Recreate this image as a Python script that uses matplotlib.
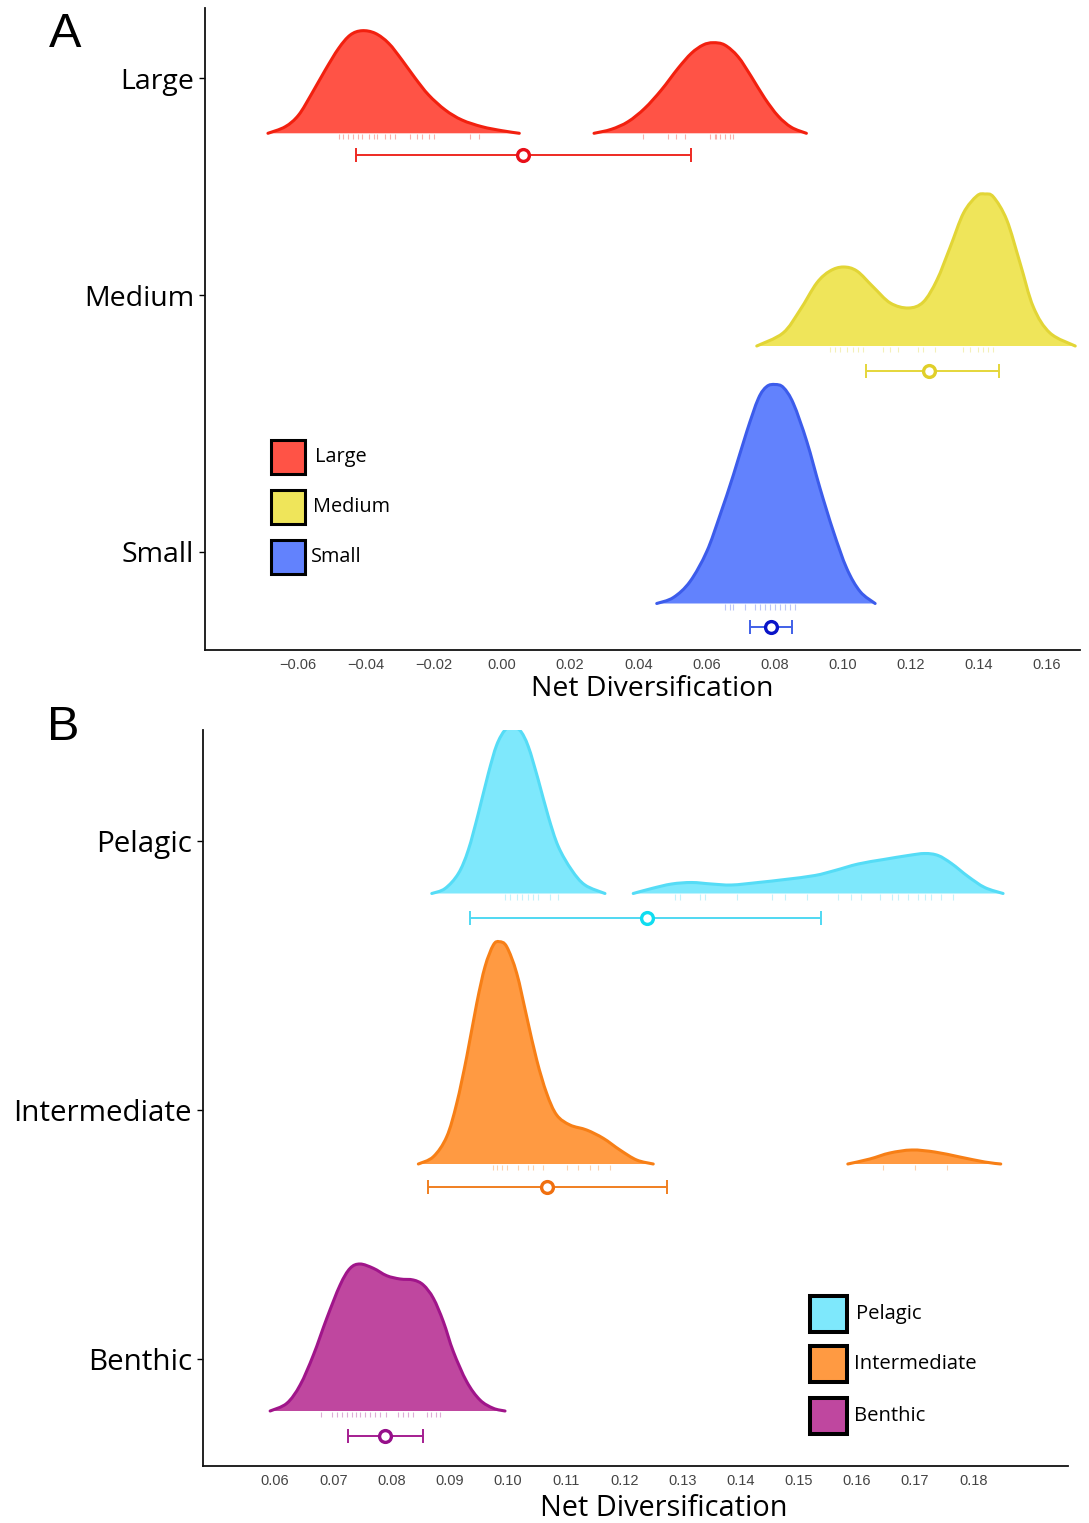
import matplotlib
matplotlib.use("Agg")
import matplotlib.pyplot as plt
from matplotlib.patches import Rectangle, PathPatch
from matplotlib.path import Path

# ================= DATA =================
# ---- Panel A: body size ----
size_categories = ["Large", "Medium", "Small"]

large_x1 = [-0.06872, -0.06364, -0.05971, -0.05580, -0.05189, -0.04796, -0.04455, -0.04112,
            -0.03721, -0.03327, -0.02937, -0.02546, -0.02153, -0.01665, -0.01175, -0.00587,
            0.00000, 0.00508]
large_h1 = [0, 6.6, 18.3, 40, 63.3, 85, 98.3, 102.6, 100, 90, 73.3, 55, 38.3, 23.3, 13.3, 6.6, 2.6, 0]
large_x2 = [0.02702, 0.03210, 0.03700, 0.04191, 0.04678, 0.05169, 0.05559, 0.05903, 0.06197,
            0.06540, 0.06931, 0.07322, 0.07715, 0.08106, 0.08496, 0.08937]
large_h2 = [0, 4, 11.6, 25, 43.3, 65, 80, 88.3, 90.6, 88.3, 76.6, 56.6, 35, 17.3, 6, 0]

medium_x = [0.0748, 0.0825, 0.0875, 0.0924, 0.0963, 0.1002, 0.1042, 0.1090, 0.1140, 0.1193,
            0.1237, 0.1277, 0.1316, 0.1355, 0.1394, 0.1418, 0.1443, 0.1482, 0.1521, 0.1560,
            0.1609, 0.1683]
medium_h = [0, 13, 36, 63, 75, 79, 75, 59, 43, 38, 44, 66, 99, 133, 150, 152, 149, 126, 83, 39, 13, 0]

small_x = [0.04543, 0.05031, 0.05521, 0.06012, 0.06402, 0.06793, 0.07187, 0.07527, 0.07774,
           0.08018, 0.08261, 0.08555, 0.08949, 0.09339, 0.09730, 0.10123, 0.10514, 0.10955]
small_h = [0, 6, 22, 52, 88.5, 128.5, 172, 205, 217, 219, 216, 200, 162, 115, 72, 35, 12, 0]

large_rug = [-0.0480, -0.0467, -0.0452, -0.0438, -0.0423, -0.0411, -0.0391, -0.0377, -0.0367,
             -0.0344, -0.0329, -0.0314, -0.0270, -0.0250, -0.0235, -0.0215, -0.0201, -0.0094,
             -0.0068, 0.0414, 0.0488, 0.0512, 0.0537, 0.0610, 0.0625, 0.0629, 0.0639, 0.0654,
             0.0669, 0.0678]
medium_rug = [0.0963, 0.0978, 0.0993, 0.1012, 0.1031, 0.1046, 0.1060, 0.1119, 0.1140, 0.1163,
              0.1222, 0.1236, 0.1272, 0.1354, 0.1374, 0.1398, 0.1413, 0.1427, 0.1442]
small_rug = [0.0655, 0.0670, 0.0678, 0.0714, 0.0743, 0.0758, 0.0772, 0.0787, 0.0802, 0.0816,
             0.0831, 0.0846, 0.0860]

size_lo = [-0.0429, 0.1069, 0.0728]
size_mean = [0.0062, 0.1253, 0.0789]
size_hi = [0.0554, 0.1458, 0.0850]

size_ticks = [-0.06, -0.04, -0.02, 0.00, 0.02, 0.04, 0.06, 0.08, 0.10, 0.12, 0.14, 0.16]

# ---- Panel B: habitat ----
habitat_categories = ["Pelagic", "Intermediate", "Benthic"]

pelagic_x1 = [0.08693, 0.08921, 0.09150, 0.09321, 0.09493, 0.09665, 0.09809, 0.09952, 0.10067,
              0.10210, 0.10352, 0.10524, 0.10696, 0.10868, 0.11098, 0.11326, 0.11670]
pelagic_h1 = [0, 5, 20, 43.5, 80, 120, 148.5, 163.5, 166, 163, 147, 113.5, 77, 47, 23.5, 8.5, 0]
pelagic_x2 = [0.12156, 0.12473, 0.12816, 0.13160, 0.13503, 0.13847, 0.14304, 0.14763, 0.15278,
              0.15622, 0.16022, 0.16460, 0.16881, 0.17168, 0.17397, 0.17627, 0.17912, 0.18199,
              0.18514]
pelagic_h2 = [0, 5, 9.5, 11, 9.5, 8.5, 11, 14, 18, 23, 29.5, 34, 38, 40, 38, 30, 17, 6, 0]

inter_x1 = [0.08462, 0.08720, 0.08950, 0.09122, 0.09294, 0.09466, 0.09608, 0.09751, 0.09854,
            0.09981, 0.10153, 0.10325, 0.10497, 0.10668, 0.10840, 0.11069, 0.11356, 0.11641,
            0.11928, 0.12215, 0.12500]
inter_h1 = [0, 7.3, 27.3, 60.7, 107.3, 160.7, 197.3, 219, 222.3, 217.3, 190.7, 147.3, 104, 70.7,
            49, 39, 34, 25.7, 14, 4, 0]
inter_x2 = [0.15845, 0.16223, 0.16567, 0.16945, 0.17340, 0.17770, 0.18199, 0.18474]
inter_h2 = [0, 5, 11, 14, 12, 7, 2, 0]

benthic_x = [0.05914, 0.06201, 0.06430, 0.06658, 0.06888, 0.07117, 0.07289, 0.07460, 0.07689,
             0.07919, 0.08148, 0.08376, 0.08548, 0.08720, 0.08892, 0.09064, 0.09294, 0.09522,
             0.09751, 0.09952]
benthic_h = [0, 7.7, 26, 56, 92.7, 126, 142.7, 147, 142.7, 135.3, 132, 131, 126, 112.7, 89.3,
             59.3, 29.3, 11, 2.7, 0]

pelagic_rug = [0.09952, 0.10038, 0.10158, 0.10244, 0.10347, 0.10433, 0.10519, 0.10725, 0.10863,
               0.12873, 0.12959, 0.13302, 0.13388, 0.13933, 0.14534, 0.14763, 0.15135, 0.15679,
               0.15908, 0.16080, 0.16395, 0.16596, 0.16709, 0.16881, 0.17053, 0.17168, 0.17283,
               0.17455, 0.17654]
inter_rug = [0.09751, 0.09814, 0.09895, 0.09981, 0.10180, 0.10352, 0.10438, 0.10610, 0.11012,
             0.11211, 0.11412, 0.11555, 0.11756, 0.1645, 0.1700, 0.1755]
benthic_rug = [0.06790, 0.06979, 0.07065, 0.07151, 0.07237, 0.07323, 0.07392, 0.07460, 0.07546,
               0.07632, 0.07718, 0.07804, 0.07907, 0.08113, 0.08199, 0.08285, 0.08371, 0.08612,
               0.08680, 0.08766, 0.08835]

habitat_lo = [0.0935, 0.0862, 0.0725]
habitat_mean = [0.1239, 0.1067, 0.0789]
habitat_hi = [0.1538, 0.1273, 0.0855]

habitat_ticks = [0.06, 0.07, 0.08, 0.09, 0.10, 0.11, 0.12, 0.13, 0.14, 0.15, 0.16, 0.17, 0.18]

# ================= STYLE / LAYOUT =================
W, H = 1089, 1523
TXT = "Open Sans"
TICKF = "Liberation Sans"

styles = {
    "Large": dict(fill="#FF5346", edge="#F2200F", bar="#EE2A22", mk="#E8101A"),
    "Medium": dict(fill="#EFE55A", edge="#E2D536", bar="#E5D63A", mk="#E0CF2A"),
    "Small": dict(fill="#6282FD", edge="#3C5CEB", bar="#4060E8", mk="#0A14C8"),
    "Pelagic": dict(fill="#7EE8FC", edge="#55DCF6", bar="#50D8F2", mk="#10DDF0"),
    "Intermediate": dict(fill="#FF9A42", edge="#F77F16", bar="#F07F20", mk="#F07010"),
    "Benthic": dict(fill="#BF479F", edge="#A0158A", bar="#A51E90", mk="#96108A"),
}

fig = plt.figure(figsize=(W / 100, H / 100), dpi=100)


def make_axes(left, bottom_px, right, top_px, ytop, ylab_size):
    ax = fig.add_axes([left / W, 1 - bottom_px / H, (right - left) / W, (bottom_px - top_px) / H])
    ax.set_ylim(0, ytop)
    for s in ("top", "right"):
        ax.spines[s].set_visible(False)
    for s in ("left", "bottom"):
        ax.spines[s].set_linewidth(1.3)
        ax.spines[s].set_color("#111111")
    ax.tick_params(axis="x", length=0, pad=6, labelsize=10.5, labelcolor="#444444")
    ax.tick_params(axis="y", length=4, width=1.0, pad=4, labelsize=ylab_size)
    return ax


def smooth_path(xs, ys):
    """Smooth Bezier path passing through the read points (drawing only)."""
    n = len(xs)
    verts = [(xs[0], ys[0])]
    codes = [Path.MOVETO]
    for i in range(n - 1):
        i0 = max(i - 1, 0)
        i3 = min(i + 2, n - 1)
        c1 = (xs[i] + (xs[i + 1] - xs[i0]) / 6.0, ys[i] + (ys[i + 1] - ys[i0]) / 6.0)
        c2 = (xs[i + 1] - (xs[i3] - xs[i]) / 6.0, ys[i + 1] - (ys[i3] - ys[i]) / 6.0)
        verts += [c1, c2, (xs[i + 1], ys[i + 1])]
        codes += [Path.CURVE4] * 3
    return verts, codes


def draw_ridge(ax, segs, base, rug, st):
    for xs, hs in segs:
        ys = [base + h for h in hs]
        verts, codes = smooth_path(xs, ys)
        fv = verts + [(xs[-1], base), (xs[0], base), (xs[0], ys[0])]
        fc = codes + [Path.LINETO, Path.LINETO, Path.CLOSEPOLY]
        ax.add_patch(PathPatch(Path(fv, fc), facecolor=st["fill"], edgecolor="none", zorder=2))
        ax.add_patch(PathPatch(Path(verts, codes), facecolor="none", edgecolor=st["edge"],
                               lw=2.2, capstyle="round", joinstyle="round", zorder=3))
    ax.vlines(rug, base - 6, base - 0.5, color=st["edge"], lw=0.8, alpha=0.35, zorder=3)


def draw_bar(ax, y, lo, m, hi, st):
    ax.errorbar([m], [y], xerr=[[m - lo], [hi - m]], fmt="none", ecolor=st["bar"],
                elinewidth=1.4, capsize=4.7, capthick=1.4, zorder=4)
    ax.plot([m], [y], "o", ms=8.5, mfc="white", mec=st["mk"], mew=2.4, zorder=5)


def legend(cats, box_x, box_w, box_tops, box_h, text_x, fs, lw):
    for c, top, tx in zip(cats, box_tops, text_x):
        inset = lw * 100 / 72 / 2
        fig.add_artist(Rectangle(((box_x + inset) / W, 1 - (top + box_h - inset) / H),
                                 (box_w - 2 * inset) / W, (box_h - 2 * inset) / H,
                                 transform=fig.transFigure, facecolor=styles[c]["fill"],
                                 edgecolor="black", lw=lw))
        fig.text(tx / W, 1 - (top + box_h / 2) / H, c, fontfamily=TXT, fontsize=fs,
                 va="center", ha="left")


# ---- Panel A ----
axA = make_axes(205, 650, 1080, 8, 642, 20.5)
axA.set_xlim(-0.0872, 0.1697)
axA.set_xticks(size_ticks)
axA.set_xticklabels([f"{t:.2f}".replace("-", "\u2212") for t in size_ticks], fontfamily=TICKF)
baseA = [516.7, 304, 46.5]
tickA = [572, 355, 98]
barA = [495, 279.3, 22.7]
segsA = [[(large_x1, large_h1), (large_x2, large_h2)], [(medium_x, medium_h)], [(small_x, small_h)]]
rugsA = [large_rug, medium_rug, small_rug]
for i, c in enumerate(size_categories):
    draw_ridge(axA, segsA[i], baseA[i], rugsA[i], styles[c])
    draw_bar(axA, barA[i], size_lo[i], size_mean[i], size_hi[i], styles[c])
axA.set_yticks(tickA)
axA.set_yticklabels(size_categories, fontfamily=TXT)
axA.set_xlabel("Net Diversification", fontfamily=TXT, fontsize=20.4)
axA.xaxis.label.set_verticalalignment("center")
axA.xaxis.set_label_coords((652 - 205) / 875, -(688.5 - 650) / 642)
legend(size_categories, 269, 38, [438, 488, 538], 38, [315, 313, 311], 14.3, 2.2)

# ---- Panel B ----
axB = make_axes(203, 1466, 1068, 730, 736, 21.3)
axB.set_xlim(0.0476, 0.1963)
axB.set_xticks(habitat_ticks)
axB.set_xticklabels([f"{t:.2f}" for t in habitat_ticks], fontfamily=TICKF)
baseB = [572.5, 302, 55]
tickB = [625, 356, 107]
barB = [548, 278.7, 30.3]
segsB = [[(pelagic_x1, pelagic_h1), (pelagic_x2, pelagic_h2)],
         [(inter_x1, inter_h1), (inter_x2, inter_h2)],
         [(benthic_x, benthic_h)]]
rugsB = [pelagic_rug, inter_rug, benthic_rug]
for i, c in enumerate(habitat_categories):
    draw_ridge(axB, segsB[i], baseB[i], rugsB[i], styles[c])
    draw_bar(axB, barB[i], habitat_lo[i], habitat_mean[i], habitat_hi[i], styles[c])
axB.set_yticks(tickB)
axB.set_yticklabels(habitat_categories, fontfamily=TXT)
axB.set_xlabel("Net Diversification", fontfamily=TXT, fontsize=20.8)
axB.xaxis.label.set_verticalalignment("center")
axB.xaxis.set_label_coords((664 - 203) / 865, -(1509 - 1466) / 736)
legend(habitat_categories, 808, 41, [1294, 1344, 1396], 40, [856, 854, 854], 14.6, 2.9)

# ---- panel letters ----
fig.text(49 / W, 1 - 12 / H, "A", fontfamily=TICKF, fontsize=35, va="top", ha="left")
fig.text(47 / W, 1 - 705 / H, "B", fontfamily=TICKF, fontsize=35, va="top", ha="left")

fig.savefig("out.png", dpi=100, facecolor="white")
